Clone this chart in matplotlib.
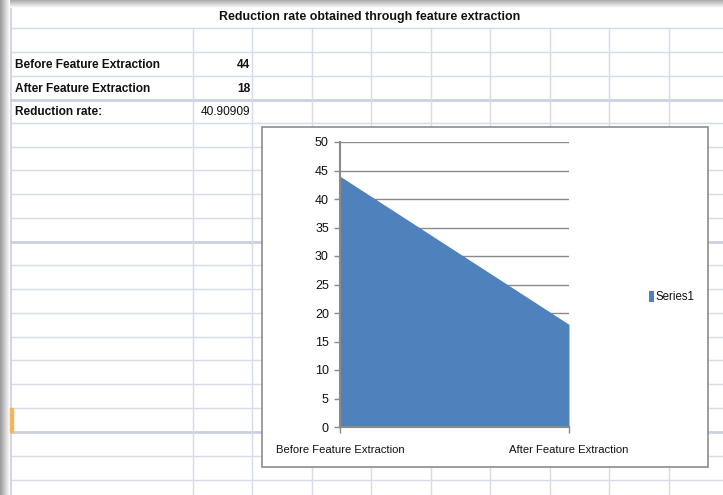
import matplotlib
matplotlib.use("Agg")
import matplotlib.pyplot as plt
import numpy as np
from matplotlib.patches import Rectangle

# ---- data ----
categories = ["Before Feature Extraction", "After Feature Extraction"]
series1 = [44, 18]
series_name = "Series1"
table_labels = ["Before Feature Extraction", "After Feature Extraction", "Reduction rate:"]
table_values = ["44", "18", "40.90909"]
title = "Reduction rate obtained through feature extraction"
yticks = [0, 5, 10, 15, 20, 25, 30, 35, 40, 45, 50]

FONT = ["Liberation Sans Narrow", "Liberation Sans", "DejaVu Sans"]
plt.rcParams["font.family"] = FONT

W, H = 723, 495
fig = plt.figure(figsize=(W / 100, H / 100), dpi=100)
fig.patch.set_facecolor("white")

# ---- spreadsheet background (pixel coordinates) ----
bg = fig.add_axes([0, 0, 1, 1])
bg.set_xlim(0, W)
bg.set_ylim(H, 0)
bg.axis("off")

grid_c = "#D5DBE7"
rows = [28, 52, 76, 100, 123, 147, 170, 194, 218, 242, 265, 289, 313, 337, 360, 384, 408, 432, 456, 480]
thick_rows = {100, 242, 432}
cols = [193, 252, 312, 371, 431, 490, 550, 609, 669]
for y in rows:
    bg.plot([11, W], [y, y], color="#C9D1E0" if y in thick_rows else grid_c,
            lw=2.0 if y in thick_rows else 1.0, zorder=1)
for x in cols:
    bg.plot([x, x], [28, H], color=grid_c, lw=1.0, zorder=1)
bg.plot([11, 11], [0, H], color="#C9D1E0", lw=1.2, zorder=1)

# shadows (left and top)
lg = np.linspace(0.60, 1.0, 50).reshape(1, -1)
bg.imshow(lg, extent=[0, 10, H, 0], cmap="gray", vmin=0, vmax=1, aspect="auto", zorder=2)
tg = np.linspace(0.66, 1.0, 50).reshape(-1, 1)
bg.imshow(tg, extent=[10, W, 8, 0], cmap="gray", vmin=0, vmax=1, aspect="auto", zorder=2)
bg.set_xlim(0, W)
bg.set_ylim(H, 0)
# selected cell marker
bg.add_patch(Rectangle((10, 408), 2.5, 24, color="#F7B45A", zorder=3))

# title
bg.text(370, 17, title, ha="center", va="center", fontsize=8.9, fontweight="bold",
        color="#111111", zorder=4)
# cell texts
for i, (lab, val) in enumerate(zip(table_labels, table_values)):
    yc = [65, 89, 112][i]
    bg.text(15, yc, lab, ha="left", va="center", fontsize=8.6, fontweight="bold",
            color="#111111", zorder=4)
    bg.text(250, yc, val, ha="right", va="center", fontsize=8.6,
            fontweight="bold" if i < 2 else "normal", color="#111111", zorder=4)

# chart box
bg.add_patch(Rectangle((262, 127), 446, 340, facecolor="white", edgecolor="#8C8C8C",
                       lw=1.2, zorder=5))

# legend
bg.add_patch(Rectangle((649, 291), 5, 11, facecolor="#4F81BD", edgecolor="none", zorder=6))
bg.text(656, 296.5, series_name, ha="left", va="center", fontsize=8.3, color="#111111", zorder=6)

# ---- chart axes ----
ax = fig.add_axes([340 / W, (H - 427) / H, 229 / W, 285 / H])
ax.set_zorder(10)
ax.patch.set_alpha(0)
xpos = np.arange(len(categories))
ax.fill_between(xpos, 0, series1, color="#4F81BD", lw=0, zorder=3)
ax.set_xlim(xpos[0], xpos[-1])
ax.set_ylim(0, 50)
ax.set_yticks(yticks)
ax.set_yticklabels([str(t) for t in yticks], fontsize=9, color="#111111")
ax.yaxis.grid(True, color="#8A8A8A", lw=1.0, zorder=1)
ax.set_axisbelow(True)
ax.set_xticks(xpos)
ax.set_xticklabels(categories, fontsize=8.1, color="#111111")
ax.tick_params(axis="y", length=4, width=1, color="#8A8A8A", pad=4)
ax.tick_params(axis="x", length=4, width=1, color="#8A8A8A", pad=9)
for s in ["top", "right"]:
    ax.spines[s].set_visible(False)
for s in ["left", "bottom"]:
    ax.spines[s].set_color("#8A8A8A")
    ax.spines[s].set_linewidth(1.5)
    ax.spines[s].set_zorder(4)

fig.savefig("out.png", dpi=100, facecolor="white")
